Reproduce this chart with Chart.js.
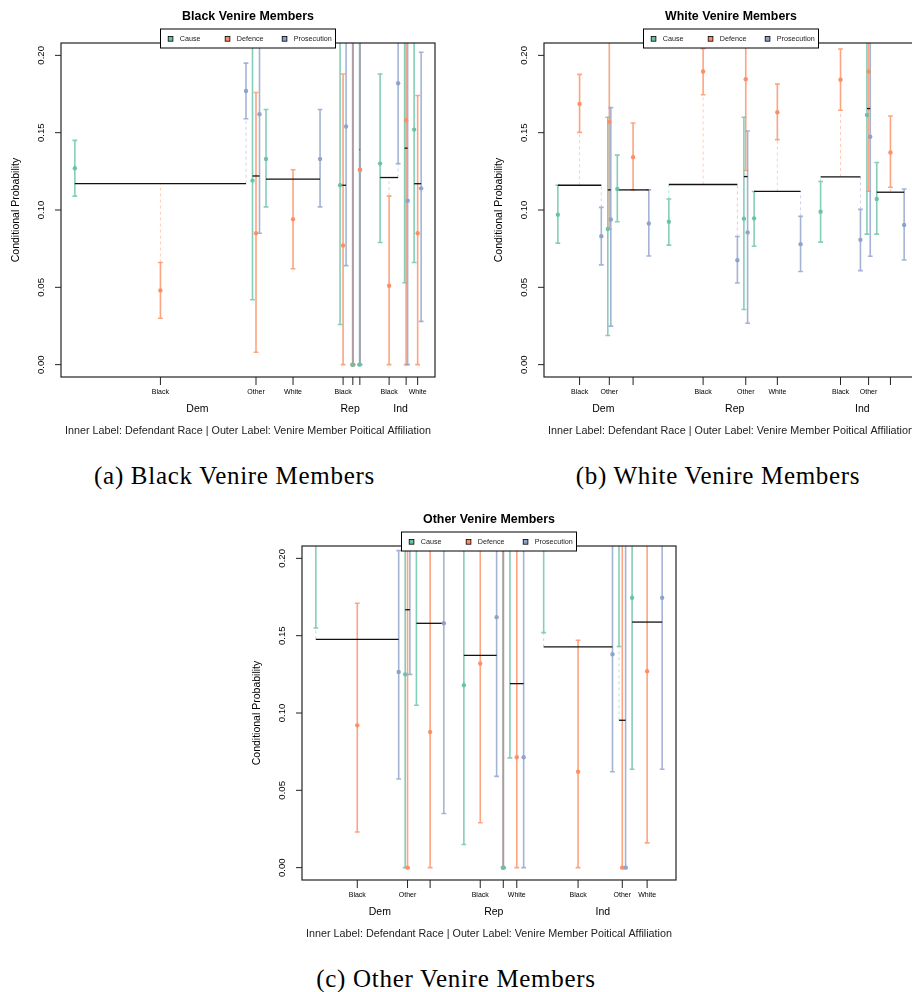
<!DOCTYPE html>
<html>
<head>
<meta charset="utf-8">
<title>Venire Members - Conditional Probability</title>
<script src="https://cdn.jsdelivr.net/npm/chart.js@4.4.0/dist/chart.umd.min.js"></script>
<style>
  html, body { margin: 0; padding: 0; background: #fff; width: 912px; height: 992px; overflow: hidden; position: relative; }
  .panel { position: absolute; }
  .cap { position: absolute; font-family: "Liberation Serif", "Times New Roman", serif; font-size: 25px;
         letter-spacing: 0.7px; color: #000; text-align: center; white-space: nowrap; }
</style>
</head>
<body>
<canvas id="chart-black" class="panel" width="455" height="445" style="left:0px;top:0px"></canvas>
<canvas id="chart-white" class="panel" width="455" height="445" style="left:483px;top:0px"></canvas>
<canvas id="chart-other" class="panel" width="455" height="445" style="left:241px;top:503px"></canvas>
<div class="cap" style="left:0px;width:469px;top:462px">(a) Black Venire Members</div>
<div class="cap" style="left:518px;width:400px;top:462px">(b) White Venire Members</div>
<div class="cap" style="left:256px;width:400px;top:965px">(c) Other Venire Members</div>
<script>
// ─── DATA ────────────────────────────────────────────────────────────────────
// segment order: Dem Black, Dem Other, Dem White, Rep Black, Rep Other, Rep White, Ind Black, Ind Other, Ind White
// each entry: [estimate, lower CI, upper CI]  (values above 0.21 run off the top of the plot)

const affiliations = ["Dem", "Rep", "Ind"];
const races = ["Black", "Other", "White"];
const seriesNames = ["Cause", "Defence", "Prosecution"];
const seriesColors = ["#66C2A5", "#FC8D62", "#8DA0CB"];
const yTicks = [0, 0.05, 0.10, 0.15, 0.20];

// Black venire members
const blackShare = [171, 7, 54, 6, 0.5, 0.5, 18, 3, 7];
const blackBaseline = [0.117, 0.122, 0.120, 0.116, 0.0, 0.139, 0.121, 0.140, 0.117];
const blackCause = [
    [0.127, 0.109, 0.145], [0.119, 0.042, 0.30], [0.133, 0.102, 0.165],
    [0.116, 0.026, 0.30], [0.0, 0.0, 0.60], [0.0, 0.0, 0.60],
    [0.130, 0.079, 0.188], [0.25, 0.053, 0.40], [0.152, 0.066, 0.30]
];
const blackDefence = [
    [0.048, 0.030, 0.066], [0.085, 0.008, 0.176], [0.094, 0.062, 0.126],
    [0.077, 0.0, 0.188], [0.0, 0.0, 0.60], [0.126, 0.0, 0.60],
    [0.051, 0.0, 0.109], [0.158, 0.0, 0.50], [0.085, 0.0, 0.174]
];
const blackProsecution = [
    [0.177, 0.159, 0.195], [0.162, 0.085, 0.30], [0.133, 0.102, 0.165],
    [0.154, 0.064, 0.30], [0.0, 0.0, 0.60], [0.126, 0.0, 0.60],
    [0.182, 0.130, 0.30], [0.106, 0.0, 0.50], [0.114, 0.028, 0.202]
];
const blackTickLabels = ["Black", "Other", "White", "Black", "", "", "Black", "", "White"];

// White venire members
const whiteShare = [43.3, 3, 31.4, 68.3, 3.7, 46.3, 39.7, 3.3, 27.3];
const whiteBaseline = [0.116, 0.113, 0.113, 0.1165, 0.1216, 0.112, 0.1214, 0.1656, 0.1115];
const whiteCause = [
    [0.097, 0.0786, 0.116], [0.0877, 0.0188, 0.160], [0.1136, 0.0924, 0.1355],
    [0.0924, 0.0773, 0.1071], [0.0944, 0.0357, 0.160], [0.0946, 0.0766, 0.112],
    [0.0989, 0.0792, 0.1184], [0.1615, 0.0844, 0.30], [0.1071, 0.0844, 0.1307]
];
const whiteDefence = [
    [0.1686, 0.1502, 0.1877], [0.157, 0.0877, 0.30], [0.1341, 0.113, 0.1563],
    [0.1896, 0.1745, 0.2043], [0.1846, 0.1255, 0.30], [0.1632, 0.1455, 0.1814],
    [0.1842, 0.1645, 0.2041], [0.1896, 0.1121, 0.30], [0.1372, 0.1147, 0.1608]
];
const whiteProsecution = [
    [0.0831, 0.0645, 0.1017], [0.0939, 0.0249, 0.1662], [0.0913, 0.0703, 0.113],
    [0.0675, 0.0528, 0.0829], [0.0855, 0.0268, 0.1511], [0.0779, 0.0602, 0.0959],
    [0.0807, 0.0608, 0.1004], [0.1474, 0.0701, 0.30], [0.0903, 0.0677, 0.1136]
];
const whiteTickLabels = ["Black", "Other", "", "Black", "Other", "White", "Black", "Other", ""];

// Other venire members
const otherShare = [82.7, 4.7, 27.4, 32.7, 0.3, 13.7, 68.7, 6.6, 30];
const otherBaseline = [0.1476, 0.1668, 0.158, 0.1373, 0.0, 0.119, 0.1427, 0.0953, 0.1588];
const otherCause = [
    [0.25, 0.155, 0.40], [0.125, 0.0, 0.40], [0.25, 0.105, 0.40],
    [0.118, 0.015, 0.40], [0.0, 0.0, 0.60], [0.25, 0.071, 0.40],
    [0.25, 0.152, 0.40], [0.25, 0.143, 0.40], [0.1745, 0.0636, 0.40]
];
const otherDefence = [
    [0.092, 0.023, 0.171], [0.0, 0.0, 0.40], [0.0877, 0.0, 0.40],
    [0.132, 0.029, 0.40], [0.0, 0.0, 0.60], [0.0714, 0.0, 0.40],
    [0.062, 0.0, 0.147], [0.0, 0.0, 0.40], [0.127, 0.016, 0.40]
];
const otherProsecution = [
    [0.1265, 0.0573, 0.205], [0.25, 0.125, 0.40], [0.158, 0.035, 0.40],
    [0.162, 0.059, 0.40], [0.0, 0.0, 0.60], [0.0714, 0.0, 0.40],
    [0.138, 0.062, 0.40], [0.0, 0.0, 0.40], [0.1745, 0.0636, 0.40]
];
const otherTickLabels = ["Black", "Other", "", "Black", "", "White", "Black", "Other", "White"];

// ─── LAYOUT HELPERS ──────────────────────────────────────────────────────────

const SPAN = 346;          // x units across all segments
const GAP_IN = 6.5;        // gap between races inside one affiliation
const GAP_OUT = 20;        // gap between affiliations
const SANS = '"Liberation Sans", Arial, sans-serif';

function rgba(hex, a) {
    const n = parseInt(hex.slice(1), 16);
    return `rgba(${(n >> 16) & 255},${(n >> 8) & 255},${n & 255},${a})`;
}

function layoutSegments(shares) {
    const total = shares.reduce((s, v) => s + v, 0);
    const avail = SPAN - 6 * GAP_IN - 2 * GAP_OUT;
    let x = 0;
    return shares.map((w, i) => {
        if (i > 0) x += (i % 3 === 0) ? GAP_OUT : GAP_IN;
        const len = w / total * avail;
        const seg = { start: x, end: x + len, mid: x + len / 2, xs: [x, x + len / 2, x + len] };
        x += len;
        return seg;
    });
}

function fitFont(ctx, text, width, weight) {
    ctx.font = `${weight} 20px ${SANS}`;
    const size = 20 * width / ctx.measureText(text).width;
    ctx.font = `${weight} ${size.toFixed(2)}px ${SANS}`;
}

// ─── PLUGIN: error bars, baselines, axes, legend ─────────────────────────────

function makePlugin(panel) {
    return {
        id: "venireBars",
        beforeDatasetsDraw(chart) {
            const { ctx, chartArea: a, scales: { x, y } } = chart;
            ctx.save();
            ctx.beginPath();
            ctx.rect(a.left, a.top, a.right - a.left, a.bottom - a.top);
            ctx.clip();

            panel.segs.forEach((seg, i) => {
                const base = panel.baseline[i];
                panel.series.forEach((vals, s) => {
                    const [, lo, hi] = vals[i];
                    const px = x.getPixelForValue(seg.xs[s]);
                    const col = seriesColors[s];

                    // dashed link from the baseline to the nearest CI end
                    let from = null, to = null;
                    if (base > hi) { from = hi; to = base; }
                    else if (base < lo) { from = base; to = lo; }
                    if (from !== null) {
                        ctx.setLineDash([3, 3]);
                        ctx.strokeStyle = rgba(col, 0.45);
                        ctx.lineWidth = 1;
                        ctx.beginPath();
                        ctx.moveTo(px, y.getPixelForValue(from));
                        ctx.lineTo(px, y.getPixelForValue(to));
                        ctx.stroke();
                        ctx.setLineDash([]);
                    }

                    // error bar + caps
                    const yl = y.getPixelForValue(lo), yh = y.getPixelForValue(hi);
                    ctx.strokeStyle = rgba(col, 0.8);
                    ctx.lineWidth = 1.6;
                    ctx.beginPath();
                    ctx.moveTo(px, yl); ctx.lineTo(px, yh);
                    ctx.moveTo(px - 2.4, yl); ctx.lineTo(px + 2.4, yl);
                    ctx.moveTo(px - 2.4, yh); ctx.lineTo(px + 2.4, yh);
                    ctx.stroke();
                });

                // segment baseline
                const by = y.getPixelForValue(base);
                ctx.strokeStyle = "#111";
                ctx.lineWidth = 1.3;
                ctx.beginPath();
                ctx.moveTo(x.getPixelForValue(seg.start), by);
                ctx.lineTo(x.getPixelForValue(seg.end), by);
                ctx.stroke();
            });
            ctx.restore();
        },
        afterDraw(chart) {
            const { ctx, chartArea: a, scales: { x, y } } = chart;
            const cx = (a.left + a.right) / 2;
            ctx.save();
            ctx.fillStyle = "#000";
            ctx.strokeStyle = "#222";

            // box
            ctx.lineWidth = 1.2;
            ctx.strokeRect(a.left, a.top, a.right - a.left, a.bottom - a.top);

            // y axis ticks + rotated labels
            ctx.lineWidth = 1;
            ctx.font = `9.6px ${SANS}`;
            ctx.textAlign = "center";
            ctx.textBaseline = "middle";
            yTicks.forEach(v => {
                const py = y.getPixelForValue(v);
                ctx.beginPath(); ctx.moveTo(a.left, py); ctx.lineTo(a.left - 6, py); ctx.stroke();
                ctx.save();
                ctx.translate(a.left - 19.5, py);
                ctx.rotate(-Math.PI / 2);
                ctx.fillText(v.toFixed(2), 0, 0);
                ctx.restore();
            });

            // y title
            ctx.save();
            ctx.font = `10.5px ${SANS}`;
            ctx.translate(16, (a.top + a.bottom) / 2);
            ctx.rotate(-Math.PI / 2);
            ctx.fillText("Conditional Probability", 0, 0);
            ctx.restore();

            // x ticks (inner labels)
            ctx.font = `7px ${SANS}`;
            panel.segs.forEach((seg, i) => {
                const px = x.getPixelForValue(seg.mid);
                ctx.beginPath(); ctx.moveTo(px, a.bottom); ctx.lineTo(px, a.bottom + 8); ctx.stroke();
                if (panel.tickLabels[i]) ctx.fillText(panel.tickLabels[i], px, a.bottom + 15.5);
            });

            // outer labels
            ctx.font = `10.5px ${SANS}`;
            affiliations.forEach((aff, g) => {
                const s0 = panel.segs[g * 3], s2 = panel.segs[g * 3 + 2];
                const px = x.getPixelForValue((s0.start + s2.end) / 2);
                ctx.fillText(aff, px, a.bottom + 32.5);
            });

            // bottom caption
            const note = "Inner Label: Defendant Race | Outer Label: Venire Member Poitical Affiliation";
            fitFont(ctx, note, 366, "normal");
            ctx.fillStyle = "#222";
            ctx.fillText(note, cx, a.bottom + 54);

            // title
            ctx.fillStyle = "#000";
            fitFont(ctx, panel.title, 132, "bold");
            ctx.fillText(panel.title, cx, a.top - 26);

            // legend
            const lx = cx - 87.5, ly = a.top - 14;
            ctx.fillStyle = "#fff";
            ctx.fillRect(lx, ly, 175, 19);
            ctx.lineWidth = 1;
            ctx.strokeStyle = "#000";
            ctx.strokeRect(lx, ly, 175, 19);
            ctx.font = `7.2px ${SANS}`;
            ctx.textAlign = "left";
            seriesNames.forEach((name, s) => {
                const ix = lx + 7.7 + s * 57;
                ctx.fillStyle = seriesColors[s];
                ctx.fillRect(ix, ly + 7.5, 4.7, 4.7);
                ctx.strokeStyle = "#000";
                ctx.lineWidth = 0.8;
                ctx.strokeRect(ix, ly + 7.5, 4.7, 4.7);
                ctx.fillStyle = "#222";
                ctx.fillText(name, ix + 11.6, ly + 10);
            });
            ctx.restore();
        }
    };
}

// ─── CHARTS ──────────────────────────────────────────────────────────────────

function makePanel(canvasId, title, shares, baseline, cause, defence, prosecution, tickLabels) {
    const segs = layoutSegments(shares);
    const panel = { title, segs, baseline, series: [cause, defence, prosecution], tickLabels };

    return new Chart(document.getElementById(canvasId), {
        type: "scatter",
        data: {
            datasets: panel.series.map((vals, s) => ({
                label: seriesNames[s],
                data: vals.map((v, i) => ({ x: segs[i].xs[s], y: v[0] })),
                pointRadius: 2.2,
                pointHoverRadius: 2.2,
                pointBackgroundColor: rgba(seriesColors[s], 0.95),
                pointBorderWidth: 0,
                clip: 0
            }))
        },
        options: {
            responsive: false,
            animation: false,
            devicePixelRatio: 1,
            events: [],
            layout: { padding: { left: 61, top: 43, right: 20, bottom: 68 } },
            plugins: { legend: { display: false }, title: { display: false }, tooltip: { enabled: false } },
            scales: {
                x: { type: "linear", display: false, min: -0.04 * SPAN, max: 1.04 * SPAN },
                y: { type: "linear", display: false, min: -0.008, max: 0.208 }
            }
        },
        plugins: [makePlugin(panel)]
    });
}

makePanel("chart-black", "Black Venire Members", blackShare, blackBaseline,
          blackCause, blackDefence, blackProsecution, blackTickLabels);
makePanel("chart-white", "White Venire Members", whiteShare, whiteBaseline,
          whiteCause, whiteDefence, whiteProsecution, whiteTickLabels);
makePanel("chart-other", "Other Venire Members", otherShare, otherBaseline,
          otherCause, otherDefence, otherProsecution, otherTickLabels);
</script>
</body>
</html>
